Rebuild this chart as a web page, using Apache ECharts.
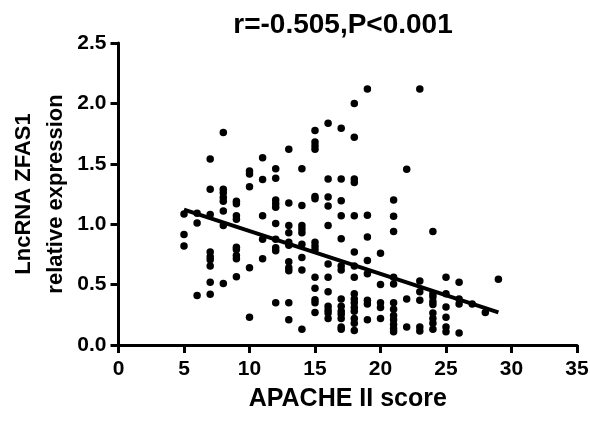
<!DOCTYPE html>
<html>
<head>
    <meta http-equiv="Content-Type" content="text/html; charset=utf-8"/>
    <title>ZFAS1 vs APACHE II</title>
    <style type="text/css">
        body, #chart {
            border: 0px;
            margin: 0px;
            padding: 0px;
            width: 590px;
            height: 421px;
            background: #ffffff;
        }
    </style>
    <script type="text/javascript" src="https://cdn.jsdelivr.net/npm/echarts@6/dist/echarts.min.js"></script>
    <script type="text/javascript">
        // points, one list per APACHE II score
        var scores = [5, 6, 7, 8, 9, 10, 11, 12, 13, 14, 15, 16, 17, 18, 19, 20, 21, 22, 23, 24, 25, 26, 27, 28, 29];
        var expr = [
            [1.085, 0.915, 0.82],
            [1.09, 1.01, 0.41],
            [1.54, 1.29, 1.08, 0.77, 0.73, 0.705, 0.655, 0.52, 0.42],
            [1.76, 1.29, 1.26, 1.22, 1.19, 1.11, 0.99, 0.51],
            [1.19, 1.17, 1.07, 1.04, 0.81, 0.79, 0.74, 0.715, 0.565],
            [1.44, 1.415, 1.31, 0.64, 0.23],
            [1.55, 1.37, 1.07, 0.875, 0.715],
            [1.46, 1.38, 1.20, 1.17, 1.14, 1.005, 0.875, 0.805, 0.78, 0.35],
            [1.62, 1.175, 0.99, 0.93, 0.85, 0.825, 0.69, 0.64, 0.615, 0.35, 0.21],
            [1.46, 1.155, 0.99, 0.96, 0.93, 0.835, 0.725, 0.62, 0.13],
            [1.775, 1.68, 1.65, 1.62, 1.23, 1.21, 0.85, 0.82, 0.79, 0.56, 0.47, 0.375, 0.35, 0.27],
            [1.835, 1.375, 1.225, 1.15, 0.99, 0.67, 0.56, 0.44, 0.32, 0.29, 0.265, 0.22],
            [1.795, 1.375, 1.195, 1.07, 0.88, 0.655, 0.62, 0.38, 0.32, 0.28, 0.255, 0.22, 0.15, 0.13],
            [2.0, 1.72, 1.375, 1.345, 1.07, 0.77, 0.655, 0.56, 0.425, 0.38, 0.35, 0.31, 0.28, 0.22, 0.18, 0.12],
            [2.12, 1.075, 0.895, 0.70, 0.59, 0.37, 0.34, 0.21],
            [0.76, 0.50, 0.35, 0.31, 0.22],
            [1.20, 1.065, 0.94, 0.56, 0.505, 0.35, 0.295, 0.245, 0.21, 0.17, 0.135, 0.11],
            [1.455, 0.38, 0.15],
            [2.12, 0.53, 0.44, 0.37, 0.15, 0.115],
            [0.94, 0.425, 0.40, 0.36, 0.335, 0.265, 0.22, 0.18, 0.13],
            [0.56, 0.425, 0.315, 0.23, 0.15, 0.11],
            [0.52, 0.38, 0.34, 0.10],
            [0.34],
            [0.27],
            [0.545]
        ];
        // fitted line ends
        var fitX = [5, 29];
        var fitY = [1.12, 0.27];
        var xTicks = [0, 5, 10, 15, 20, 25, 30, 35];
        var yTicks = [0.0, 0.5, 1.0, 1.5, 2.0, 2.5];

        function init() {
            var pts = [];
            for (var i = 0; i < scores.length; i++) {
                for (var j = 0; j < expr[i].length; j++) {
                    pts.push([scores[i], expr[i][j]]);
                }
            }
            var fit = [];
            for (var k = 0; k < fitX.length; k++) {
                fit.push([fitX[k], fitY[k]]);
            }
            var font = '"Liberation Sans", Arial, sans-serif';
            var axisLine = {show: true, lineStyle: {color: '#000', width: 3}};
            var axisTick = {show: true, length: 8, lineStyle: {color: '#000', width: 3}};
            var myChart = echarts.init(document.getElementById('chart'));
            myChart.setOption({
                animation: false,
                backgroundColor: '#fff',
                title: {
                    text: 'r=-0.505,P<0.001',
                    left: 338,
                    top: 6,
                    textAlign: 'center',
                    textStyle: {fontFamily: font, fontWeight: 'bold', fontSize: 28, color: '#000'}
                },
                grid: {left: 118.5, right: 13, top: 43, bottom: 76, outerBoundsMode: 'none'},
                xAxis: {
                    type: 'value',
                    min: xTicks[0],
                    max: xTicks[xTicks.length - 1],
                    interval: 5,
                    name: 'APACHE II score',
                    nameLocation: 'middle',
                    nameGap: 42,
                    nameMoveOverlap: false,
                    nameTextStyle: {fontFamily: font, fontWeight: 'bold', fontSize: 25, color: '#000'},
                    axisLine: axisLine,
                    axisTick: axisTick,
                    splitLine: {show: false},
                    axisLabel: {fontFamily: font, fontWeight: 'bold', fontSize: 21, color: '#000', margin: 14}
                },
                yAxis: {
                    type: 'value',
                    min: yTicks[0],
                    max: yTicks[yTicks.length - 1],
                    interval: 0.5,
                    name: 'LncRNA ZFAS1\nrelative expression',
                    nameLocation: 'middle',
                    nameGap: 47,
                    nameMoveOverlap: false,
                    nameTextStyle: {fontFamily: font, fontWeight: 'bold', fontSize: 22, color: '#000', lineHeight: 32},
                    axisLine: axisLine,
                    axisTick: axisTick,
                    splitLine: {show: false},
                    axisLabel: {
                        fontFamily: font, fontWeight: 'bold', fontSize: 21, color: '#000', margin: 12,
                        formatter: function (v) { return v.toFixed(1); }
                    }
                },
                series: [
                    {
                        type: 'scatter',
                        data: pts,
                        symbolSize: 7.5,
                        itemStyle: {color: '#000', opacity: 1}
                    },
                    {
                        type: 'line',
                        data: fit,
                        symbol: 'none',
                        lineStyle: {color: '#000', width: 4}
                    }
                ]
            });
        }
    </script>
</head>
<body onLoad="init()">
<div id="chart"></div>
</body>
</html>
